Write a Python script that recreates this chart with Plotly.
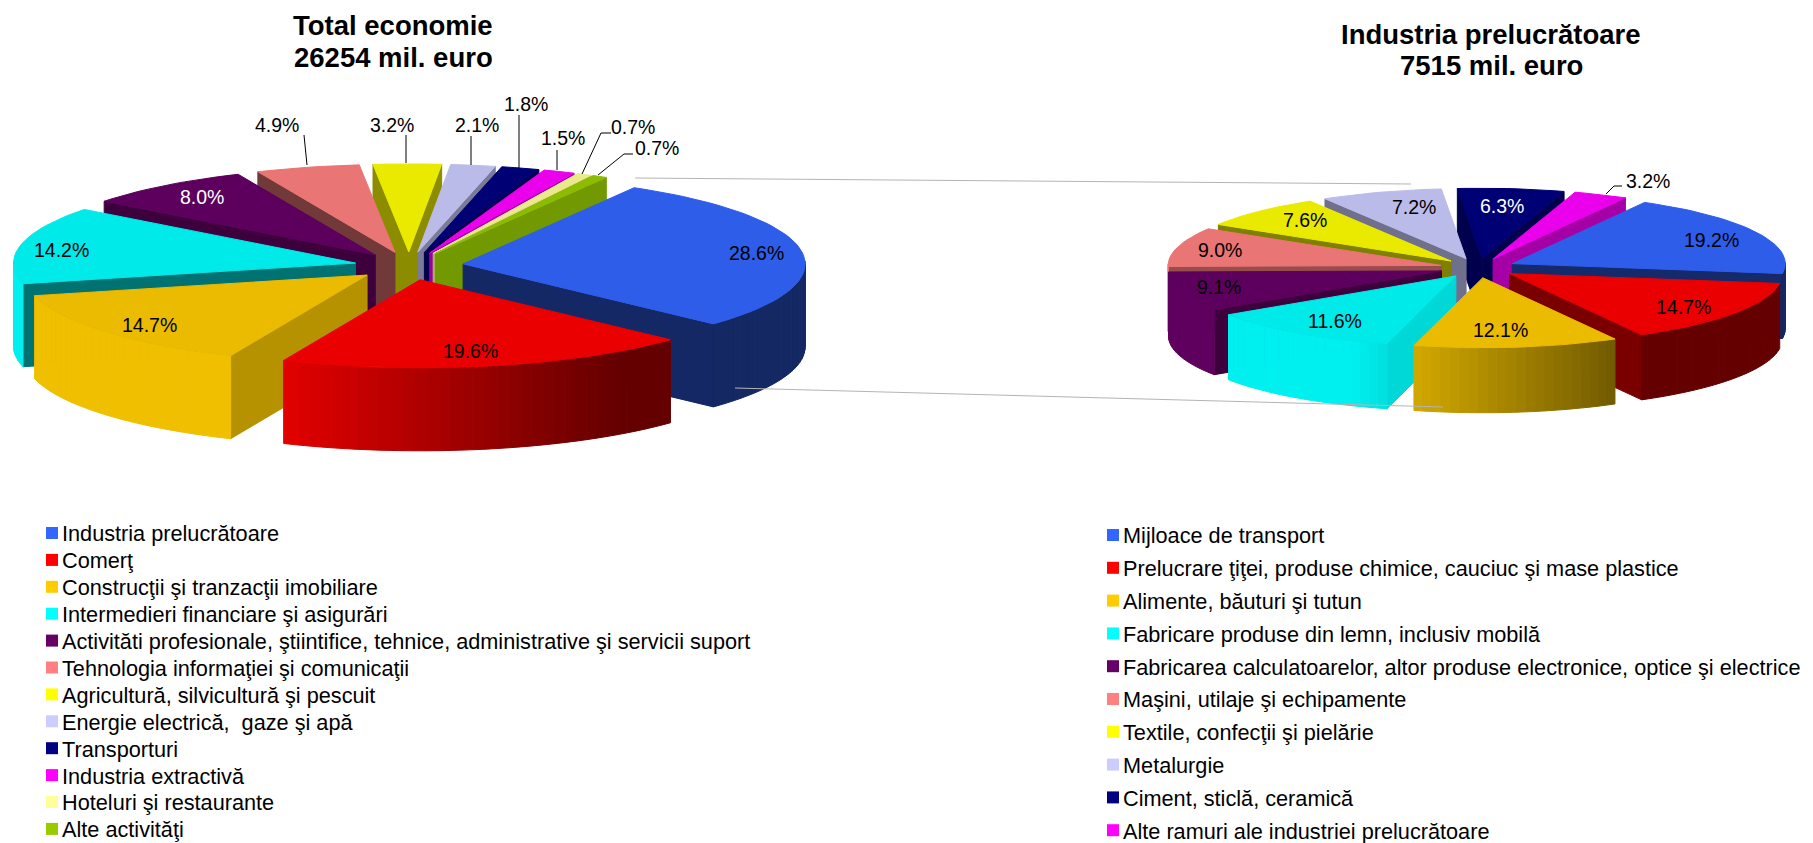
import math
import plotly.graph_objects as go

# ---------- data ----------
total_title = ["Total economie", "26254 mil. euro"]
total_labels = ["Industria prelucrătoare", "Comerţ", "Construcţii şi tranzacţii imobiliare",
                "Intermedieri financiare şi asigurări",
                "Activităti profesionale, ştiintifice, tehnice, administrative şi servicii suport",
                "Tehnologia informaţiei şi comunicaţii", "Agricultură, silvicultură şi pescuit",
                "Energie electrică,\u00a0 gaze şi apă", "Transporturi", "Industria extractivă",
                "Hoteluri şi restaurante", "Alte activităţi"]
total_values = [28.6, 19.6, 14.7, 14.2, 8.0, 4.9, 3.2, 2.1, 1.8, 1.5, 0.7, 0.7]

ind_title = ["Industria prelucrătoare", "7515 mil. euro"]
ind_labels = ["Mijloace de transport", "Prelucrare ţiţei, produse chimice, cauciuc şi mase plastice",
              "Alimente, băuturi şi tutun", "Fabricare produse din lemn, inclusiv mobilă",
              "Fabricarea calculatoarelor, altor produse electronice, optice şi electrice",
              "Maşini, utilaje şi echipamente", "Textile, confecţii şi pielărie", "Metalurgie",
              "Ciment, sticlă, ceramică", "Alte ramuri ale industriei prelucrătoare"]
ind_values = [19.2, 14.7, 12.1, 11.6, 9.1, 9.0, 7.6, 7.2, 6.3, 3.2]

# ---------- styles ----------
total_colors = ["#3366FF", "#FF0000", "#FFCC00", "#00FFFF", "#660066", "#FF8080",
                "#FFFF00", "#CCCCFF", "#000080", "#FF00FF", "#FFFF99", "#99CC00"]
ind_colors = total_colors[:10]
total_face = [.40, .5, .72, .45, .6, .45, .55, .6, .6, .6, .7, .75]
ind_face = [.42, .48, .7, .85, .6, .6, .5, .55, .6, .65]

total_geom = dict(cx=409, cy=266, rx=342, ry=88, depth=83, pull=.16, start=30)
ind_geom = dict(cx=1478, cy=268, rx=273, ry=70, depth=65, pull=.14, start=29)

total_lab_pos = [(756, 253), (470, 351), (149, 325), (61, 250), (202, 197), (277, 125),
                 (392, 125), (477, 125), (526, 104), (563, 138), (633, 127), (657, 148)]
ind_lab_pos = [(1711, 240), (1683, 307), (1500, 330), (1335, 321), (1219, 287), (1220, 250),
               (1305, 220), (1414, 207), (1502, 206), (1648, 181)]
white_labels = {("t", 4), ("i", 8)}

leaders = [[(304, 135), (307, 165)], [(406, 135), (406, 163)], [(471, 136), (471, 165)],
           [(519, 115), (519, 168)], [(557, 150), (557, 170)],
           [(611, 133), (601, 133), (582, 174)], [(633, 154), (624, 154), (598, 175)],
           [(1622, 186), (1614, 186), (1606, 194)]]
connectors = [[(635, 178), (1411, 184)], [(735, 388), (1443, 407)]]

fig = go.Figure()


def shade(hex_color, f):
    r, g, b = (int(hex_color[i:i + 2], 16) for i in (1, 3, 5))
    return f"rgb({int(r * f)},{int(g * f)},{int(b * f)})"


def poly(xs, ys, color):
    fig.add_trace(go.Scatter(x=xs, y=ys, mode="lines", fill="toself", fillcolor=color,
                             line=dict(color=color, width=1), hoverinfo="skip", showlegend=False))


def draw_pie(values, colors, faces, g):
    cx, cy, rx, ry, d, pull = g["cx"], g["cy"], g["rx"], g["ry"], g["depth"], g["pull"]
    total = sum(values)
    slices = []
    a = g["start"]
    for i, v in enumerate(values):
        b = a + v / total * 360
        slices.append((i, a, b))
        a = b
    slices.sort(key=lambda s: -math.cos(math.radians((s[1] + s[2]) / 2)))
    left, width = cx - rx * (1 + pull), 2 * rx * (1 + pull)
    for i, a, b in slices:
        mid = math.radians((a + b) / 2)
        ax = cx + pull * rx * math.sin(mid)
        ay = cy - pull * ry * math.cos(mid)
        pt = lambda t: (ax + rx * math.sin(math.radians(t)), ay - ry * math.cos(math.radians(t)))
        col = colors[i]
        # radial faces
        if math.cos(math.radians(a - 90)) < 0:
            p = pt(a)
            poly([ax, p[0], p[0], ax, ax], [ay, p[1], p[1] + d, ay + d, ay], shade(col, faces[i]))
        if math.cos(math.radians(b + 90)) < 0:
            p = pt(b)
            poly([ax, p[0], p[0], ax, ax], [ay, p[1], p[1] + d, ay + d, ay], shade(col, faces[i]))
        # outer wall, in thin strips that darken to the right
        t = a
        step = 2.0
        while t < b - 1e-9:
            t2 = min(t + step, b)
            tm = (t + t2) / 2
            if math.cos(math.radians(tm)) < 0.02:
                p1, p2 = pt(t), pt(t2)
                u = ((p1[0] + p2[0]) / 2 - left) / width
                f = max(.42, min(1.0, 1.0 - (u - .3) * 1.25)) * .94
                poly([p1[0], p2[0], p2[0], p1[0], p1[0]],
                     [p1[1], p2[1], p2[1] + d, p1[1] + d, p1[1]], shade(col, f))
            t = t2
        # top surface
        n = max(2, int((b - a) / 2))
        arc = [pt(a + (b - a) * k / n) for k in range(n + 1)]
        poly([ax] + [q[0] for q in arc] + [ax], [ay] + [q[1] for q in arc] + [ay], shade(col, .92))


draw_pie(total_values, total_colors, total_face, total_geom)
draw_pie(ind_values, ind_colors, ind_face, ind_geom)

for seg in leaders:
    fig.add_trace(go.Scatter(x=[p[0] for p in seg], y=[p[1] for p in seg], mode="lines",
                             line=dict(color="black", width=1), hoverinfo="skip", showlegend=False))
for seg in connectors:
    fig.add_trace(go.Scatter(x=[p[0] for p in seg], y=[p[1] for p in seg], mode="lines",
                             line=dict(color="#B4B4B4", width=1), hoverinfo="skip", showlegend=False))

# legend rows: square key + real text
for labels, colors, x0, y0, pitch in ((total_labels, total_colors, 52, 533, 26.9),
                                      (ind_labels, ind_colors, 1113, 535, 32.8)):
    rows = [y0 + k * pitch for k in range(len(labels))]
    fig.add_trace(go.Scatter(x=[x0] * len(labels), y=rows, mode="markers",
                             marker=dict(symbol="square", size=12, color=colors),
                             cliponaxis=False, hoverinfo="skip", showlegend=False))
    fig.add_trace(go.Scatter(x=[x0 + 10] * len(labels), y=[r + 3 for r in rows], mode="text", text=labels,
                             textposition="middle right", textfont=dict(size=21.7, color="black"),
                             cliponaxis=False, hoverinfo="skip", showlegend=False))

# percentage labels
anns = []
for key, vals, pos in (("t", total_values, total_lab_pos), ("i", ind_values, ind_lab_pos)):
    for i, (v, (x, y)) in enumerate(zip(vals, pos)):
        anns.append(dict(x=x, y=y, xref="x", yref="y", text=f"{v:.1f}%", showarrow=False,
                         font=dict(size=19.5, color="white" if (key, i) in white_labels else "black")))
for lines, x, ys in ((total_title, 393, (25, 57)), (ind_title, 1491, (34, 65))):
    for line, y in zip(lines, ys):
        anns.append(dict(x=x, y=y, xref="x", yref="y", text=f"<b>{line}</b>", showarrow=False,
                         font=dict(size=27.5, color="black")))

H = 843
fig.update_layout(
    width=1813, height=H, margin=dict(l=0, r=0, t=0, b=0),
    paper_bgcolor="white", plot_bgcolor="white",
    font=dict(family="Liberation Sans, Arial, sans-serif", color="black"),
    xaxis=dict(range=[0, 1813], visible=False, fixedrange=True),
    yaxis=dict(range=[H, 0], visible=False, fixedrange=True),
    showlegend=False, annotations=anns, hovermode=False,
)
fig.write_html("out.html", post_script="document.body.style.margin='0';", config={"displayModeBar": False})
